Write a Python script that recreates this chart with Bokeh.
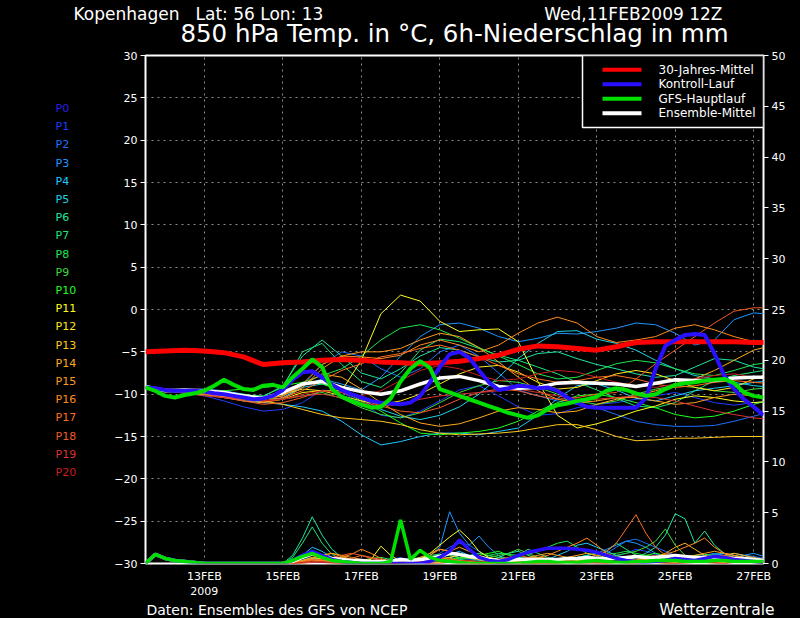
from bokeh.plotting import figure
from bokeh.layouts import column, row
from bokeh.models import Range1d, LinearAxis, FixedTicker, Label, BoxAnnotation
from bokeh.embed import file_html
from bokeh.resources import INLINE
from bokeh.core.properties import value

# ---------------- data ----------------
# time axis: day of February 2009 (UTC), 12-hourly and 6-hourly
TEMP_TIMES = [11.5 + 0.5 * i for i in range(33)]
FINE_TIMES = [11.5 + 0.25 * i for i in range(64)]

DATE_TICKS = [13, 15, 17, 19, 21, 23, 25, 27]
DATE_LABELS = ["13FEB\n2009", "15FEB", "17FEB", "19FEB", "21FEB", "23FEB", "25FEB", "27FEB"]
TEMP_TICKS = list(range(-30, 31, 5))
PRECIP_TICKS = list(range(0, 51, 5))

MEMBER_LABELS = ["P%d" % i for i in range(21)]
MEMBER_COLORS = ["#2b1de8", "#1e3cff", "#1e6eff", "#1e96ff", "#1ec8ff", "#1ed2e6",
                 "#1ee6a0", "#1ee678", "#1ee650", "#3cdc3c", "#1eff1e", "#ffff1e",
                 "#ffe61e", "#ffc81e", "#ffaa1e", "#ff9b1e", "#ff8c1e", "#ff6e1e",
                 "#f05a28", "#dc3232", "#c81e1e"]

LEGEND_NAMES = ["30-Jahres-Mittel", "Kontroll-Lauf", "GFS-Hauptlauf", "Ensemble-Mittel"]
LEGEND_COLORS = ["#ff0000", "#2a10ff", "#00e000", "#ffffff"]

HEADER_CITY = "Kopenhagen"
HEADER_POS = "Lat: 56 Lon: 13"
HEADER_RIGHT = "Wed,11FEB2009 12Z"
TITLE = "850 hPa Temp. in °C, 6h-Niederschlag in mm"
FOOT_LEFT = "Daten: Ensembles des GFS von NCEP"
FOOT_RIGHT = "Wetterzentrale"

# 850 hPa temperature (deg C)
CLIMATE = [-5.0, -4.9, -4.8, -4.9, -5.1, -5.6, -6.5, -6.3, -6.2, -6.0, -5.9, -6.0, -6.2, -6.3, -6.4, -6.3,
           -6.1, -5.8, -5.4, -4.7, -4.3, -4.4, -4.6, -4.8, -4.4, -3.9, -3.8, -3.8, -3.8, -3.8, -3.8, -3.9, -3.9]
ENS_MEAN = [-9.1, -9.6, -9.5, -9.6, -9.8, -10.2, -10.5, -9.8, -8.8, -8.5, -9.2, -9.7, -10.0, -9.6, -8.8, -8.1,
            -7.9, -8.4, -9.1, -9.3, -9.2, -8.7, -8.6, -8.7, -8.8, -9.1, -8.7, -8.3, -8.4, -8.4, -8.1, -8.0, -8.0]
GFS = [-9.2, -9.6, -10.2, -10.4, -10.1, -9.9, -9.6, -9.0,
       -8.3, -8.9, -9.4, -9.5, -9.0, -8.9, -9.2, -8.0,
       -7.0, -5.9, -6.8, -9.4, -10.3, -10.8, -11.2, -11.6,
       -11.5, -10.5, -8.5, -7.0, -6.1, -6.9, -9.4, -9.8,
       -10.2, -10.6, -11.0, -11.4, -11.8, -12.2, -12.5, -12.8,
       -12.5, -11.8, -11.3, -11.1, -10.8, -10.6, -10.3, -9.6,
       -9.3, -9.5, -9.9, -10.2, -10.0, -9.4, -8.9, -8.7,
       -8.6, -8.4, -8.3, -8.2, -8.7, -9.8, -10.2, -10.4]
CONTROL = [-9.2, -9.3, -9.5, -9.6, -9.6, -9.6, -9.7, -9.9,
           -10.0, -10.2, -10.4, -10.6, -10.5, -10.2, -9.5, -8.3,
           -7.4, -7.3, -8.0, -8.9, -9.5, -10.0, -10.4, -10.8,
           -11.0, -11.1, -11.2, -11.0, -10.2, -8.6, -6.8, -5.3,
           -5.0, -5.7, -7.2, -8.6, -9.5, -9.3, -9.0, -9.1,
           -9.3, -9.2, -9.6, -10.4, -11.0, -11.5, -11.6, -11.6,
           -11.6, -11.6, -11.6, -10.5, -7.0, -4.3, -3.6, -3.0,
           -2.9, -3.0, -5.2, -7.8, -9.4, -10.6, -11.5, -12.5]

P1 = [-9.2, -9.4, -9.8, -10.2, -10.8, -11.5, -12.0, -11.8, -11.0, -9.5, -9.8, -11.0, -12.5, -12.8, -12.0, -10.8,
      -9.5, -9.0, -10.2, -11.5, -12.5, -12.3, -11.6, -11.2, -11.0, -10.6, -10.2, -9.8, -10.4, -11.0, -11.3, -11.0, -10.8]
P2 = [-9.2, -9.5, -9.6, -9.6, -9.9, -10.4, -10.8, -10.5, -9.0, -6.5, -5.0, -5.5, -7.0, -8.0, -7.0, -5.0,
      -4.2, -5.5, -7.5, -9.5, -10.2, -10.8, -11.2, -11.6, -12.4, -13.2, -13.6, -13.8, -13.8, -13.7, -13.2, -12.6, -12.0]
P3 = [-9.2, -9.6, -9.5, -9.4, -9.6, -10.0, -10.5, -10.2, -9.0, -8.2, -8.8, -9.5, -8.0, -5.5, -3.2, -1.8,
      -1.6, -2.2, -3.2, -3.8, -3.4, -2.8, -2.9, -2.6, -2.2, -1.6, -1.8, -2.8, -4.2, -3.6, -1.2, -0.4, -0.6]
P4 = [-9.2, -9.4, -9.8, -10.0, -10.3, -10.6, -11.0, -11.2, -11.5, -12.0, -13.2, -14.8, -16.0, -15.6, -15.0, -14.6,
      -14.6, -14.8, -14.4, -14.0, -12.5, -10.5, -9.0, -8.8, -9.5, -10.5, -10.8, -10.2, -9.6, -9.3, -9.0, -8.6, -8.4]
P5 = [-9.2, -9.6, -9.9, -10.0, -10.2, -10.8, -11.0, -10.4, -9.2, -8.8, -9.4, -10.6, -11.8, -12.6, -13.0, -12.5,
      -11.5, -10.0, -8.0, -5.8, -4.0, -2.6, -2.5, -3.5, -4.0, -4.8, -6.0, -7.0, -7.8, -8.2, -8.6, -9.0, -9.2]
P6 = [-9.2, -9.4, -9.7, -9.8, -10.0, -10.2, -10.3, -9.0, -5.5, -3.6, -5.5, -7.5, -8.2, -7.0, -5.5, -4.5,
      -4.8, -5.6, -6.2, -6.0, -5.2, -5.0, -5.8, -6.5, -7.0, -7.6, -8.0, -7.8, -6.8, -5.8, -6.0, -6.8, -7.2]
P7 = [-9.2, -9.5, -9.4, -9.6, -9.8, -10.1, -10.2, -9.2, -5.0, -4.0, -6.5, -8.5, -9.2, -7.5, -4.8, -3.5,
      -3.8, -4.6, -5.4, -6.0, -6.8, -7.6, -8.6, -9.5, -10.5, -11.4, -11.6, -11.0, -9.6, -8.4, -7.8, -7.4, -7.0]
P8 = [-9.2, -9.5, -9.8, -10.1, -10.4, -10.5, -10.3, -9.8, -8.6, -7.8, -7.0, -5.5, -3.6, -2.2, -1.8, -2.4,
      -3.4, -4.5, -5.5, -6.5, -7.6, -8.2, -8.0, -7.2, -6.4, -6.0, -6.3, -7.0, -7.6, -7.8, -7.2, -6.5, -6.2]
P9 = [-9.2, -9.4, -9.6, -9.8, -9.9, -10.0, -10.4, -10.6, -10.2, -9.8, -10.5, -11.6, -12.4, -12.8, -12.2, -11.0,
      -9.8, -9.0, -8.4, -8.6, -9.2, -10.0, -10.8, -11.2, -10.8, -10.0, -9.4, -9.0, -9.2, -9.6, -9.8, -9.4, -9.2]
P10 = [-9.2, -9.6, -9.8, -9.8, -9.6, -9.4, -9.2, -9.0, -8.6, -8.8, -9.6, -10.8, -12.0, -13.4, -14.6, -14.8,
       -14.6, -14.4, -14.0, -13.2, -12.0, -11.0, -10.2, -10.0, -10.4, -11.0, -11.6, -12.4, -12.8, -12.6, -12.0, -11.2, -10.6]
P11 = [-9.2, -9.5, -9.7, -9.8, -10.0, -10.4, -10.9, -10.6, -9.8, -9.6, -9.6, -6.0, -0.5, 1.7, 1.0, -1.4,
       -2.6, -2.4, -2.3, -3.8, -8.5, -12.5, -14.0, -13.5, -12.8, -12.0, -11.4, -10.6, -10.2, -10.4, -10.8, -11.0, -10.8]
P12 = [-9.2, -9.4, -9.5, -9.7, -10.0, -10.2, -10.4, -10.0, -9.4, -9.6, -10.2, -10.8, -11.2, -10.8, -10.0, -8.8,
       -7.6, -6.8, -6.6, -7.4, -8.6, -9.4, -9.2, -8.4, -7.6, -7.2, -7.6, -8.4, -9.2, -9.6, -9.2, -8.2, -7.4]
P13 = [-9.2, -9.6, -9.8, -10.0, -10.3, -10.6, -10.8, -11.2, -11.8, -12.4, -12.8, -13.0, -13.2, -13.6, -14.2, -14.6,
       -14.8, -14.7, -14.6, -14.4, -14.0, -13.6, -13.6, -14.2, -15.0, -15.5, -15.4, -15.2, -15.2, -15.1, -15.0, -15.0, -15.0]
P14 = [-9.2, -9.5, -9.7, -9.9, -10.1, -10.4, -10.6, -10.2, -9.0, -7.6, -8.0, -9.4, -11.0, -12.4, -13.4, -13.8,
       -13.5, -12.8, -12.0, -11.6, -11.8, -12.2, -12.0, -11.2, -10.6, -10.2, -9.6, -9.0, -8.2, -7.2, -6.0, -4.8, -4.2]
P15 = [-9.2, -9.5, -9.8, -10.0, -10.4, -10.8, -11.0, -10.6, -9.2, -7.0, -5.5, -5.0, -5.0, -4.6, -3.6, -2.8,
       -3.2, -4.5, -6.2, -8.0, -9.6, -10.6, -11.0, -10.8, -10.4, -10.4, -10.8, -11.2, -11.0, -10.4, -10.0, -10.2, -10.4]
P16 = [-9.2, -9.4, -9.6, -9.8, -10.0, -10.3, -10.5, -10.2, -8.8, -6.5, -5.5, -5.6, -5.8, -5.4, -4.2, -3.6,
       -4.2, -5.0, -4.2, -2.8, -1.6, -0.9, -1.6, -3.2, -3.9, -3.6, -3.2, -2.2, -1.8, -2.4, -3.2, -3.8, -4.1]
P17 = [-9.2, -9.5, -9.6, -9.8, -10.2, -10.6, -10.8, -10.4, -9.6, -8.4, -7.2, -6.4, -5.6, -5.2, -4.6, -4.2,
       -4.8, -5.6, -6.6, -7.6, -8.2, -8.6, -8.4, -8.0, -7.8, -8.2, -8.8, -9.2, -9.0, -8.6, -8.4, -8.6, -8.8]
P18 = [-9.2, -9.4, -9.7, -10.0, -10.4, -10.8, -11.2, -11.0, -10.4, -9.6, -9.8, -10.6, -11.4, -12.0, -12.2, -11.6,
       -10.6, -9.8, -9.4, -9.6, -10.2, -10.6, -10.4, -10.0, -9.8, -8.2, -6.4, -4.8, -3.2, -1.6, -0.2, 0.2, 0.2]
P19 = [-9.2, -9.5, -9.9, -10.2, -10.4, -10.6, -10.8, -10.6, -10.2, -10.0, -10.4, -11.0, -11.4, -11.2, -10.6, -10.2,
       -10.0, -9.8, -9.6, -9.4, -9.8, -10.2, -10.6, -10.6, -10.4, -10.2, -10.4, -10.8, -11.4, -12.0, -12.4, -12.8, -13.0]
P20 = [-9.2, -9.4, -9.6, -9.8, -10.1, -10.5, -10.8, -10.6, -10.0, -9.6, -9.8, -10.2, -9.6, -8.4, -7.2, -6.6,
       -7.0, -7.8, -8.4, -8.2, -7.6, -7.2, -7.4, -8.0, -8.6, -9.0, -9.2, -8.8, -8.2, -7.8, -7.6, -8.0, -8.4]
MEMBERS_T = [P1, P2, P3, P4, P5, P6, P7, P8, P9, P10, P11, P12, P13, P14, P15, P16, P17, P18, P19, P20]

# 6h precipitation (mm): common first 3.5 days (11.5 .. 14.75) then per run (15.0 .. 27.25)
PRECIP_LEAD = [0.0, 0.9, 0.5, 0.3, 0.2, 0.1, 0.0, 0.0, 0.0, 0.0, 0.0, 0.0, 0.0, 0.0]
CTRL_PR = [0, 0.3, 0.8, 1.2, 0.8, 0.4, 0.2, 0.1, 0, 0, 0, 0, 0, 0, 0, 0.2, 0.6, 1.2, 2.3, 1.4,
           0.6, 0.3, 0.2, 0.4, 0.8, 1.1, 1.3, 1.5, 1.5, 1.5, 1.4, 1.3, 1.1, 0.8, 0.5, 0.3, 0.2, 0.1, 0.2, 0.3,
           0.5, 0.4, 0.3, 0.5, 0.7, 0.6, 0.4, 0.3, 0.2, 0.1]
GFS_PR = [0, 0.3, 0.7, 1.0, 0.6, 0.3, 0.2, 0.1, 0, 0, 0, 0.2, 4.3, 0.4, 1.3, 0.6, 0.3, 0.2, 0.1, 0,
          0, 0, 0, 0, 0, 0.1, 0.2, 0.2, 0.1, 0.1, 0.1, 0.2, 0.3, 0.2, 0.1, 0.1, 0.2, 0.2, 0.3, 0.3,
          0.3, 0.2, 0.2, 0.2, 0.3, 0.3, 0.2, 0.2, 0.2, 0.2]
MEAN_PR = [0, 0.2, 0.6, 1.0, 0.7, 0.5, 0.4, 0.3, 0.3, 0.2, 0.2, 0.2, 0.4, 0.3, 0.4, 0.5, 0.7, 1.0, 0.9, 0.7,
           0.6, 0.4, 0.3, 0.3, 0.4, 0.4, 0.4, 0.4, 0.4, 0.5, 0.5, 0.6, 0.5, 0.5, 0.5, 0.6, 0.7, 0.6, 0.6, 0.7,
           0.8, 0.7, 0.6, 0.6, 0.5, 0.5, 0.5, 0.5, 0.4, 0.3]
R1 = [0, 0.2, 0.6, 1.0, 0.5, 0.3, 0.2, 0.1, 0, 0, 0.2, 0.4, 0.6, 0.3, 0.2, 0.4, 0.8, 1.0, 0.6, 0.4,
      0.2, 0.1, 0, 0, 0.1, 0.3, 0.5, 0.4, 0.2, 0.1, 0.2, 0.3, 0.4, 0.6, 0.8, 1.0, 1.4, 1.2, 0.9, 0.6,
      0.4, 0.5, 0.6, 0.4, 0.3, 0.5, 0.6, 0.4, 0.3, 0.2]
R2 = [0, 0, 0.3, 0.8, 0.6, 0.4, 0.2, 0.1, 0, 0, 0, 0.1, 0.3, 0.5, 0.4, 0.6, 1.0, 1.6, 2.0, 1.8,
      1.2, 0.6, 0.3, 0.2, 0.1, 0, 0, 0.1, 0.2, 0.3, 0.4, 0.6, 0.8, 1.0, 1.6, 2.2, 2.4, 2.0, 1.6, 1.2,
      0.8, 0.6, 0.5, 0.4, 0.3, 0.4, 0.6, 0.8, 0.7, 0.5]
R3 = [0, 0.1, 0.2, 0.4, 0.3, 0.2, 0.1, 0, 0, 0, 0, 0, 0.1, 0.2, 0.4, 0.8, 1.6, 5.1, 3.0, 1.8,
      2.7, 1.6, 0.8, 0.4, 0.3, 0.2, 0.1, 0, 0.2, 0.4, 0.6, 0.8, 1.0, 1.4, 1.8, 2.2, 2.0, 1.6, 1.0, 0.6,
      0.4, 0.3, 0.5, 0.8, 1.0, 0.8, 0.6, 0.8, 1.0, 0.7]
R4 = [0, 0.2, 0.8, 1.6, 1.2, 0.6, 0.3, 0.2, 0.1, 0, 0, 0.1, 0.2, 0.1, 0, 0.2, 0.5, 0.9, 1.2, 0.8,
      0.5, 0.3, 0.2, 0.4, 0.6, 0.5, 0.3, 0.4, 0.8, 1.2, 1.8, 2.0, 1.6, 1.2, 0.8, 0.6, 0.4, 0.3, 0.2, 0.4,
      0.6, 0.5, 0.4, 0.6, 0.9, 1.0, 0.8, 0.6, 0.4, 0.3]
R5 = [0, 0, 0.2, 0.5, 0.4, 0.3, 0.2, 0.1, 0.1, 0, 0, 0, 0, 0.2, 0.3, 0.5, 0.4, 0.6, 0.8, 0.5,
      0.3, 0.2, 0.1, 0.2, 0.4, 0.6, 0.5, 0.3, 0.2, 0.3, 0.5, 0.8, 1.0, 0.8, 0.6, 0.4, 0.3, 0.2, 0.4, 0.6,
      0.5, 0.3, 0.2, 0.3, 0.5, 0.8, 1.0, 0.8, 0.5, 0.4]
R6 = [0, 0.8, 2.5, 4.6, 2.8, 1.4, 0.6, 0.3, 0.2, 0.1, 0, 0, 0.1, 0.2, 0.1, 0.2, 0.4, 0.6, 0.4, 0.3,
      0.2, 0.3, 0.6, 1.0, 1.2, 0.8, 0.5, 0.3, 0.2, 0.4, 0.6, 0.8, 1.0, 0.8, 0.6, 0.4, 0.6, 1.0, 1.6, 2.8,
      4.9, 4.4, 2.0, 3.2, 1.8, 1.0, 0.6, 0.4, 0.3, 0.2]
R7 = [0, 0.6, 2.0, 3.6, 2.0, 0.9, 0.4, 0.2, 0.1, 0, 0, 0, 0, 0.1, 0.2, 0.3, 0.2, 0.4, 0.6, 0.8,
      1.0, 0.8, 0.6, 0.5, 0.8, 1.4, 1.0, 0.6, 0.4, 0.3, 0.2, 0.4, 0.6, 1.2, 2.0, 1.4, 0.8, 0.6, 0.4, 0.3,
      0.4, 0.6, 0.8, 0.6, 0.4, 0.3, 0.2, 0.3, 0.4, 0.3]
R8 = [0, 0.1, 0.3, 0.6, 0.5, 0.4, 0.3, 0.2, 0.3, 0.5, 0.6, 0.4, 0.3, 0.4, 0.6, 0.8, 0.9, 0.8, 0.6, 0.5,
      0.6, 0.8, 1.0, 0.9, 0.8, 0.9, 1.2, 1.6, 2.0, 2.2, 1.6, 1.0, 0.8, 0.9, 1.0, 1.2, 1.0, 0.8, 0.6, 0.5,
      0.4, 0.6, 0.8, 0.9, 0.8, 0.6, 0.5, 0.4, 0.3, 0.2]
R9 = [0, 0, 0.1, 0.3, 0.2, 0.1, 0.1, 0, 0, 0, 0, 0, 0.2, 0.4, 0.3, 0.2, 0.3, 0.4, 0.6, 0.5,
      0.4, 0.6, 0.8, 1.0, 1.4, 1.0, 0.6, 0.4, 0.3, 0.2, 0.3, 0.4, 0.5, 0.6, 0.8, 1.0, 1.2, 1.6, 2.2, 3.4,
      1.8, 0.8, 0.6, 0.5, 0.4, 0.3, 0.4, 0.5, 0.4, 0.3]
R10 = [0, 0, 0.2, 0.4, 0.3, 0.2, 0.2, 0.1, 0, 0, 0, 0, 0, 0, 0.1, 0.2, 0.3, 0.4, 0.5, 0.6,
       0.8, 1.0, 1.2, 0.8, 0.6, 0.4, 0.3, 0.2, 0.2, 0.3, 0.4, 0.5, 0.6, 0.5, 0.4, 0.5, 0.6, 0.8, 1.0, 0.8,
       0.6, 0.4, 0.3, 0.4, 0.5, 0.6, 0.5, 0.4, 0.3, 0.2]
R11 = [0, 0, 0.2, 0.4, 0.5, 0.6, 0.4, 0.3, 0.2, 0.4, 1.7, 0.8, 0.2, 0.1, 0.4, 1.0, 1.8, 2.6, 3.3, 2.4,
       1.2, 0.6, 0.4, 0.2, 0.1, 0, 0, 0.1, 0.2, 0.3, 0.4, 0.3, 0.2, 0.1, 0.2, 0.3, 0.4, 0.3, 0.2, 0.2,
       0.3, 0.4, 0.5, 0.4, 0.3, 0.2, 0.3, 0.4, 0.3, 0.2]
R12 = [0, 0, 0.1, 0.2, 0.3, 0.2, 0.1, 0.1, 0, 0, 0.1, 0.2, 0.3, 0.2, 0.1, 0.2, 0.4, 0.6, 0.8, 0.6,
       0.4, 0.2, 0.1, 0.1, 0.2, 0.3, 0.2, 0.1, 0, 0.1, 0.2, 0.3, 0.2, 0.1, 0.2, 0.4, 0.6, 0.4, 0.3, 0.2,
       0.2, 0.3, 0.2, 0.1, 0.1, 0.2, 0.3, 0.2, 0.1, 0.1]
R13 = [0, 0, 0, 0.2, 0.3, 0.4, 0.3, 0.2, 0.1, 0, 0, 0, 0.1, 0.2, 0.1, 0, 0.1, 0.2, 0.3, 0.2,
       0.1, 0, 0, 0.1, 0.2, 0.1, 0, 0, 0.1, 0.2, 0.3, 0.2, 0.1, 0, 0.1, 0.2, 0.3, 0.2, 0.1, 0,
       0.1, 0.2, 0.3, 0.2, 0.1, 0.1, 0.2, 0.3, 0.2, 0.1]
R14 = [0, 0.1, 0.3, 0.6, 0.8, 1.0, 0.7, 0.4, 0.2, 0.1, 0, 0, 0.1, 0.2, 0.4, 0.6, 0.8, 1.2, 1.6, 1.2,
       0.8, 0.5, 0.3, 0.2, 0.3, 0.5, 0.6, 0.5, 0.4, 0.6, 0.8, 1.0, 0.8, 0.6, 0.5, 0.4, 0.3, 0.4, 0.6, 1.0,
       1.6, 2.0, 1.4, 0.8, 0.6, 0.8, 1.0, 0.8, 0.6, 0.4]
R15 = [0, 0.1, 0.2, 0.5, 0.8, 1.0, 0.8, 0.6, 0.4, 0.3, 0.2, 0.3, 0.4, 0.3, 0.6, 1.0, 1.4, 1.2, 0.8, 0.6,
       0.4, 0.3, 0.2, 0.3, 0.4, 0.6, 0.8, 1.0, 0.8, 0.6, 0.4, 0.3, 0.2, 0.3, 0.4, 0.6, 0.8, 0.6, 0.4, 0.3,
       0.4, 0.6, 0.8, 1.0, 1.2, 1.0, 0.8, 0.6, 0.4, 0.3]
R16 = [0, 0.2, 0.5, 0.8, 0.6, 0.5, 0.6, 0.9, 1.4, 1.0, 0.5, 0.2, 0.1, 0.2, 0.4, 0.8, 1.4, 1.2, 0.8, 0.6,
       0.4, 0.3, 0.2, 0.1, 0.2, 0.4, 0.6, 0.8, 1.2, 1.6, 2.0, 2.5, 1.8, 1.0, 0.6, 0.4, 0.3, 0.4, 0.6, 0.9,
       1.2, 1.6, 2.0, 2.5, 1.6, 1.0, 0.8, 0.6, 0.4, 0.3]
R17 = [0, 0.1, 0.2, 0.4, 0.3, 0.2, 0.3, 0.5, 0.8, 0.6, 0.4, 0.2, 0.1, 0.1, 0.2, 0.4, 0.6, 0.5, 0.3, 0.2,
       0.1, 0.2, 0.4, 0.6, 0.8, 0.6, 0.4, 0.3, 0.2, 0.3, 0.4, 0.6, 0.8, 1.2, 2.0, 3.4, 4.8, 3.0, 1.6, 0.8,
       0.5, 0.4, 0.3, 0.4, 0.6, 0.8, 0.6, 0.4, 0.3, 0.2]
R18 = [0, 0, 0.1, 0.3, 0.4, 0.6, 0.8, 1.0, 0.8, 0.5, 0.3, 0.2, 0.1, 0, 0.1, 0.3, 0.5, 0.4, 0.2, 0.1,
       0, 0, 0.1, 0.3, 0.5, 0.4, 0.3, 0.2, 0.1, 0.2, 0.4, 0.6, 0.4, 0.2, 0.1, 0.2, 0.4, 0.6, 0.8, 0.6,
       0.4, 0.3, 0.2, 0.1, 0.2, 0.3, 0.4, 0.3, 0.2, 0.1]
R19 = [0, 0, 0, 0.1, 0.2, 0.1, 0, 0, 0, 0, 0, 0, 0, 0.1, 0.2, 0.3, 0.2, 0.1, 0, 0,
       0, 0.1, 0.2, 0.1, 0, 0, 0, 0.1, 0.2, 0.1, 0, 0, 0.1, 0.2, 0.1, 0, 0, 0.1, 0.2, 0.1,
       0, 0, 0.1, 0.2, 0.1, 0, 0.1, 0.2, 0.1, 0]
R20 = [0, 0, 0.1, 0.2, 0.1, 0, 0, 0.1, 0.2, 0.1, 0, 0, 0.1, 0.2, 0.1, 0, 0, 0.1, 0.2, 0.3,
       0.2, 0.1, 0, 0, 0.1, 0.2, 0.1, 0, 0, 0.1, 0.2, 0.1, 0, 0, 0.1, 0.2, 0.3, 0.2, 0.1, 0,
       0, 0.1, 0.2, 0.1, 0, 0, 0.1, 0.2, 0.1, 0]
MEMBERS_P = [R1, R2, R3, R4, R5, R6, R7, R8, R9, R10, R11, R12, R13, R14, R15, R16, R17, R18, R19, R20]

FONT = "DejaVu Sans"
BLACK = {"background-color": "black"}


def text_panel(w, h, y_top=0, y_bottom=None):
    """A figure used only as a text canvas: data units = page pixels, y pointing down."""
    f = figure(width=w, height=h, output_backend="svg", toolbar_location=None,
               x_range=Range1d(0, w), y_range=Range1d(h if y_bottom is None else y_bottom, y_top),
               x_axis_type=None, y_axis_type=None,
               background_fill_color="black", border_fill_color="black",
               outline_line_color=None, min_border=0)
    f.grid.visible = False
    return f


def put(f, xs, ys, texts, size, colors="white", align="left"):
    f.text(x=xs, y=ys, text=texts, text_color=colors, text_font=value(FONT),
           text_font_size=value("%spx" % size), text_align=align, text_baseline="middle")


# ---------------- header (page y 0..47) ----------------
header = text_panel(800, 47)
put(header, [73], [13], [HEADER_CITY], 17)
put(header, [195], [13], [HEADER_POS], 17)
put(header, [722], [13], [HEADER_RIGHT], 17, align="right")
put(header, [728], [33], [TITLE], 24.5, align="right")

# ---------------- left member labels (its frame is aligned with the chart frame: page y 55..563) ----------------
side = text_panel(105, 554, y_top=55, y_bottom=563)
put(side, [55] * 21, [108 + 18.2 * i for i in range(21)], MEMBER_LABELS, 11, colors=MEMBER_COLORS)

# ---------------- main chart (page x 105..800, y 47..601) ----------------
p = figure(width=695, height=554, output_backend="svg", toolbar_location=None,
           x_range=Range1d(11.5, 27.25), y_range=Range1d(-30, 30),
           background_fill_color="black", border_fill_color="black",
           min_border_left=40, min_border_right=37, min_border_top=8, min_border_bottom=38,
           outline_line_color="white", outline_line_width=2)
p.extra_y_ranges = {"precip": Range1d(0, 50)}

xax = p.xaxis[0]
xax.ticker = FixedTicker(ticks=DATE_TICKS)
xax.major_label_overrides = {t: s for t, s in zip(DATE_TICKS, DATE_LABELS)}
yax = p.yaxis[0]
yax.ticker = FixedTicker(ticks=TEMP_TICKS)
rax = LinearAxis(y_range_name="precip", ticker=FixedTicker(ticks=PRECIP_TICKS))
p.add_layout(rax, "right")
for ax in (xax, yax, rax):
    ax.axis_line_color = None
    ax.major_tick_line_color = "white"
    ax.major_tick_line_width = 1
    ax.major_tick_in = 0
    ax.minor_tick_line_color = None
    ax.major_label_text_color = "white"
    ax.major_label_text_font = FONT
    ax.major_label_text_font_size = "11px"
xax.major_tick_out = 0
xax.major_label_standoff = 6
yax.major_tick_out = 5
yax.major_label_standoff = 3
rax.major_tick_out = 5
rax.major_label_standoff = 3

for g in (p.xgrid[0], p.ygrid[0]):
    g.grid_line_color = "#8c8c8c"
    g.grid_line_dash = "2 4"
    g.grid_line_width = 1

for i in range(20):
    c = MEMBER_COLORS[i + 1]
    p.line(TEMP_TIMES, MEMBERS_T[i], line_color=c, line_width=1)
    p.line(FINE_TIMES, PRECIP_LEAD + MEMBERS_P[i], line_color=c, line_width=1, y_range_name="precip")

p.line(TEMP_TIMES, CLIMATE, line_color=LEGEND_COLORS[0], line_width=5)
p.line(FINE_TIMES, PRECIP_LEAD + MEAN_PR, line_color=LEGEND_COLORS[3], line_width=3.5, y_range_name="precip")
p.line(TEMP_TIMES, ENS_MEAN, line_color=LEGEND_COLORS[3], line_width=3.5)
p.line(FINE_TIMES, PRECIP_LEAD + CTRL_PR, line_color=LEGEND_COLORS[1], line_width=3.5, y_range_name="precip")
p.line(FINE_TIMES, CONTROL, line_color=LEGEND_COLORS[1], line_width=4)
p.line(FINE_TIMES, PRECIP_LEAD + GFS_PR, line_color=LEGEND_COLORS[2], line_width=3.5, y_range_name="precip")
p.line(FINE_TIMES, GFS, line_color=LEGEND_COLORS[2], line_width=4)

# legend (inside the frame, in this figure's canvas pixels)
p.add_layout(BoxAnnotation(left=477, right=658, top=8, bottom=80,
                           left_units="canvas", right_units="canvas",
                           top_units="canvas", bottom_units="canvas",
                           fill_color="black", fill_alpha=1.0,
                           line_color="white", line_width=1.5, line_alpha=1.0))
for k, (name, col) in enumerate(zip(LEGEND_NAMES, LEGEND_COLORS)):
    yk = 22.3 + 14.5 * k
    p.add_layout(BoxAnnotation(left=497, right=536, top=yk - 2, bottom=yk + 2,
                               left_units="canvas", right_units="canvas",
                               top_units="canvas", bottom_units="canvas",
                               fill_color=col, fill_alpha=1.0, line_color=None))
    p.add_layout(Label(x=553, y=yk, x_units="canvas", y_units="canvas", text=name,
                       text_font=FONT, text_font_size="12px", text_color="white",
                       text_baseline="middle"))

# ---------------- footer (page y 601..618) ----------------
footer = text_panel(800, 17)
put(footer, [146], [8], [FOOT_LEFT], 14)
put(footer, [774], [8.4], [FOOT_RIGHT], 15.5, align="right")

layout = column(header, row(side, p, styles=BLACK), footer, styles=BLACK)
open("out.html", "w").write(file_html(layout, INLINE))
